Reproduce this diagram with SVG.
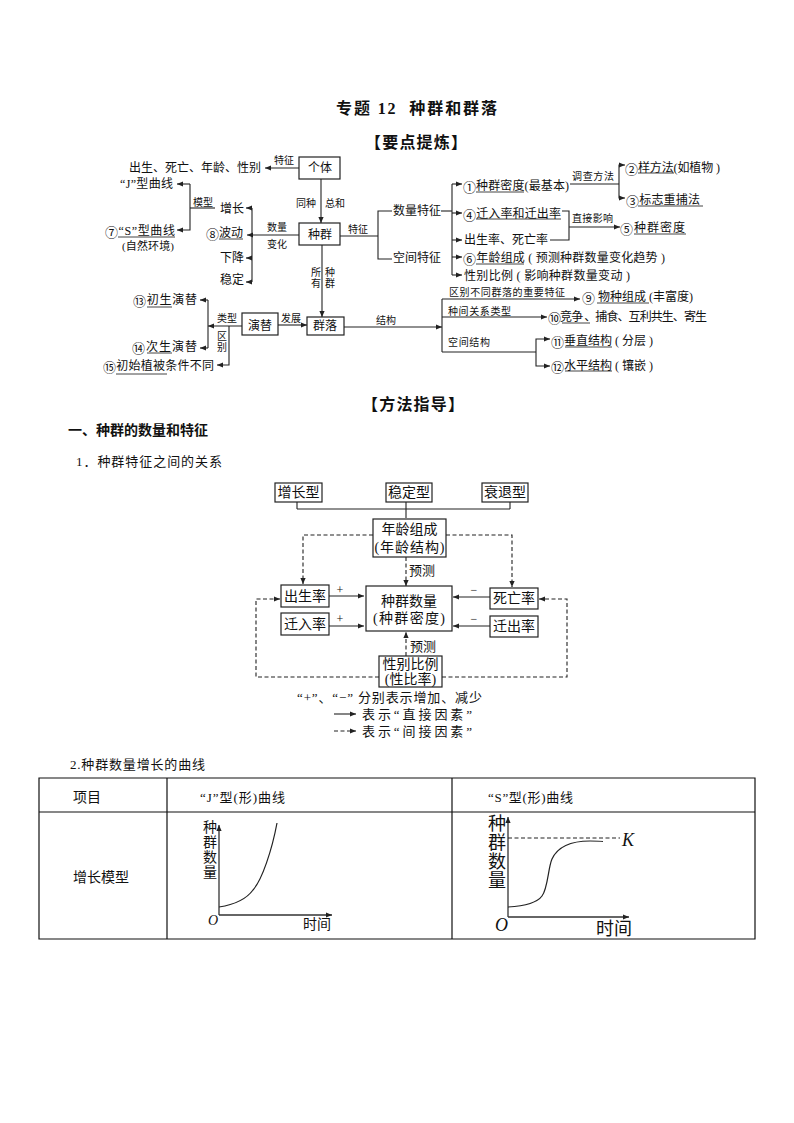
<svg xmlns="http://www.w3.org/2000/svg" width="794" height="1123" viewBox="0 0 794 1123">
<style>
text{font-family:"Liberation Serif","Noto Sans CJK SC",serif;fill:#111;dominant-baseline:central;font-size:12px}
.n{font-family:"Noto Sans CJK SC",sans-serif;font-size:13px}
.h{font-weight:bold}
.s{font-size:10px}
.m{font-size:14px}
.c{text-anchor:middle}
.b{fill:#fff;stroke:#222;stroke-width:1.2}
.l{fill:none;stroke:#222;stroke-width:1.1}
.d{fill:none;stroke:#222;stroke-width:1.1;stroke-dasharray:4 2.5}
.a{marker-end:url(#ah)}
.u{fill:none;stroke:#444;stroke-width:1}
.t{fill:none;stroke:#111;stroke-width:1.2}
.ax{fill:none;stroke:#333;stroke-width:1.3;marker-end:url(#ah)}
.cv{fill:none;stroke:#222;stroke-width:1.2}
</style>
<defs><marker id="ah" markerWidth="7" markerHeight="6" refX="6" refY="3" orient="auto" markerUnits="userSpaceOnUse"><path d="M0,0.4L6,3L0,5.6Z" fill="#222"/></marker></defs>
<rect width="794" height="1123" fill="#fff"/>
<g id="headings">
<text class="h" x="336" y="108" style="font-size:16px" textLength="161">专题 12 <tspan dx="6">种群和群落</tspan></text>
<text class="h" x="365" y="142" style="font-size:16px" textLength="102">【要点提炼】</text>
<text class="h" x="362" y="404" style="font-size:16px" textLength="102">【方法指导】</text>
<text class="h" x="68" y="430" style="font-size:14px">一、种群的数量和特征</text>
<text x="76" y="461" style="font-size:13px" textLength="146">1．种群特征之间的关系</text>
<text x="70" y="764" style="font-size:13px" textLength="135">2.种群数量增长的曲线</text>
</g>
<g id="connectors">
<path class="l a" d="M299 168H265"/>
<path class="l a" d="M321 179V223"/>
<path class="l a" d="M322 245V317"/>
<path class="l a" d="M299 235H247"/>
<path class="l" d="M252 208V282"/>
<path class="l a" d="M252 208H246"/>
<path class="l a" d="M252 258H246"/>
<path class="l a" d="M252 282H246"/>
<path class="l a" d="M190 184H177"/>
<path class="l a" d="M190 184V230H177"/>
<path class="l" d="M190 208H215"/>
<path class="l" d="M340 236H378"/>
<path class="l" d="M392 211H378V259H392"/>
<path class="l" d="M441 211H452"/>
<path class="l" d="M452 184V275"/>
<path class="l a" d="M452 184H462"/>
<path class="l a" d="M452 213H462"/>
<path class="l a" d="M452 240H462"/>
<path class="l a" d="M452 257H462"/>
<path class="l a" d="M452 275H462"/>
<path class="l" d="M570 184H619"/>
<path class="l a" d="M619 184V165H625"/>
<path class="l a" d="M619 184V198H625"/>
<path class="l" d="M562 211H569V240H550"/>
<path class="l a" d="M569 227H620"/>
<path class="l a" d="M344 327H442"/>
<path class="l" d="M442 299V352"/>
<path class="l a" d="M442 299H580"/>
<path class="l a" d="M442 317H547"/>
<path class="l" d="M442 352H536"/>
<path class="l a" d="M536 352V339H550"/>
<path class="l a" d="M536 352V366H550"/>
<path class="l a" d="M278 325H307"/>
<path class="l a" d="M242 326H208"/>
<path class="l" d="M208 300V348"/>
<path class="l a" d="M208 300H200"/>
<path class="l a" d="M208 348H200"/>
<path class="l a" d="M229 326V365H217"/>
<path class="l" d="M297 502V509M406 502V518M510 502V509M297 509H510"/>
<path class="d a" d="M373 535H303V584"/>
<path class="d a" d="M446 535H512V587"/>
<path class="d a" d="M406 557V586"/>
<path class="d a" d="M406 656V632"/>
<path class="d a" d="M379 677H256V599H280"/>
<path class="d a" d="M442 677H567V599H539"/>
<path class="l a" d="M329 596H364"/>
<path class="l a" d="M329 626H364"/>
<path class="l a" d="M490 597H453"/>
<path class="l a" d="M490 626H453"/>
<path class="l a" d="M334 714H356"/>
<path class="d a" d="M334 731H356"/>
</g>
<g id="underlines">
<path class="u" d="M118 237H175M219 239H243M476 192H524M638 173H674M638 206H703M476 219H561M634 234H686M476 264H524M597 303H649M562 323H590M565 347H612M565 371H612M147 307H172M147 353H172M116 374H167"/>
</g>
<g id="concept-labels">
<text x="129" y="168" textLength="132">出生、死亡、年龄、性别</text>
<text class="s" x="274" y="160">特征</text>
<text x="120" y="184" textLength="53">“J”型曲线</text>
<text class="s" x="193" y="202">模型</text>
<text x="105" y="231" textLength="70"><tspan class="n">⑦</tspan>“S”型曲线</text>
<text class="s" x="122" y="246" style="font-size:11px" textLength="52">(自然环境)</text>
<text x="220" y="209">增长</text>
<text x="206" y="233" textLength="37"><tspan class="n">⑧</tspan>波动</text>
<text x="220" y="258">下降</text>
<text x="220" y="280">稳定</text>
<text class="s" x="267" y="227">数量</text>
<text class="s" x="267" y="244">变化</text>
<text class="s" x="296" y="203">同种</text>
<text class="s" x="325" y="203">总和</text>
<text class="s c" x="316" y="272">所</text>
<text class="s c" x="316" y="283">有</text>
<text class="s c" x="330" y="272">种</text>
<text class="s c" x="330" y="283">群</text>
<text class="s" x="348" y="229">特征</text>
<text x="393" y="211" textLength="48">数量特征</text>
<text x="393" y="258" textLength="48">空间特征</text>
<text x="463" y="186" textLength="106"><tspan class="n">①</tspan>种群密度(最基本)</text>
<text class="s" x="572" y="176" textLength="42">调查方法</text>
<text x="625" y="168" textLength="95"><tspan class="n">②</tspan>样方法(如植物 )</text>
<text x="626" y="200" textLength="74"><tspan class="n">③</tspan>标志重捕法</text>
<text x="463" y="214" textLength="98"><tspan class="n">④</tspan>迁入率和迁出率</text>
<text x="464" y="240" textLength="84">出生率、死亡率</text>
<text class="s" x="572" y="218" textLength="41">直接影响</text>
<text x="620" y="228" textLength="65"><tspan class="n">⑤</tspan>种群密度</text>
<text x="463" y="258" textLength="202"><tspan class="n">⑥</tspan>年龄组成 ( 预测种群数量变化趋势 )</text>
<text x="464" y="276" textLength="166">性别比例 ( 影响种群数量变动 )</text>
<text class="s" x="449" y="292" textLength="116">区别不同群落的重要特征</text>
<text x="582" y="297" textLength="111"><tspan class="n">⑨</tspan> 物种组成 (丰富度)</text>
<text class="s" x="448" y="311" textLength="63">种间关系类型</text>
<text x="548" y="317" textLength="159"><tspan class="n">⑩</tspan>竞争 、捕食、互利共生、寄生</text>
<text class="s" x="376" y="320">结构</text>
<text class="s" x="448" y="342" textLength="42">空间结构</text>
<text x="551" y="341" textLength="102"><tspan class="n">⑪</tspan>垂直结构 ( 分层 )</text>
<text x="551" y="366" textLength="102"><tspan class="n">⑫</tspan>水平结构 ( 镶嵌 )</text>
<text x="133" y="300" textLength="64"><tspan class="n">⑬</tspan>初生演替</text>
<text x="132" y="347" textLength="65"><tspan class="n">⑭</tspan>次生演替</text>
<text x="103" y="366" textLength="111"><tspan class="n">⑮</tspan>初始植被条件不同</text>
<text class="s" x="217" y="318">类型</text>
<text class="s" x="281" y="318">发展</text>
<text class="s c" x="222" y="336">区</text>
<text class="s c" x="222" y="347">别</text>
</g>
<g id="node-geti"><rect class="b" x="299" y="157" width="41" height="22"/><text class="c" x="320" y="168">个体</text></g>
<g id="node-zhongqun"><rect class="b" x="299" y="223" width="41" height="22"/><text class="c" x="320" y="235">种群</text></g>
<g id="node-yanti"><rect class="b" x="242" y="313" width="36" height="22"/><text class="c" x="260" y="326">演替</text></g>
<g id="node-qunluo"><rect class="b" x="307" y="317" width="37" height="18"/><text class="c" x="325" y="326">群落</text></g>
<g id="node-zengzhang"><rect class="b" x="275" y="483" width="47" height="19"/><text class="m c" x="298.500" y="492.500">增长型</text></g>
<g id="node-wending"><rect class="b" x="386" y="483" width="46" height="19"/><text class="m c" x="409" y="492.500">稳定型</text></g>
<g id="node-shuaitui"><rect class="b" x="482" y="483" width="46" height="19"/><text class="m c" x="505" y="492.500">衰退型</text></g>
<g id="node-nianling"><rect class="b" x="373" y="519" width="73" height="38"/><text class="m c" x="409.500" y="529">年龄组成</text><text class="m c" x="409.500" y="547" textLength="70">(年龄结构)</text></g>
<g id="node-chusheng"><rect class="b" x="281" y="585" width="48" height="22"/><text class="m c" x="305" y="596">出生率</text></g>
<g id="node-qianru"><rect class="b" x="281" y="613" width="48" height="22"/><text class="m c" x="305" y="624">迁入率</text></g>
<g id="node-siwang"><rect class="b" x="490" y="588" width="48" height="21"/><text class="m c" x="514" y="598.500">死亡率</text></g>
<g id="node-qianchu"><rect class="b" x="490" y="616" width="48" height="21"/><text class="m c" x="514" y="626.500">迁出率</text></g>
<g id="node-shuliang"><rect class="b" x="366" y="586" width="86" height="45"/><text class="m c" x="409" y="601">种群数量</text><text class="m c" x="409" y="618" textLength="72">(种群密度)</text></g>
<g id="node-xingbie"><rect class="b" x="379" y="656" width="63" height="31"/><text class="m c" x="410.500" y="664">性别比例</text><text class="m c" x="410.500" y="679">(性比率)</text></g>
<g id="flow-labels">
<text x="409" y="570" style="font-size:13px">预测</text>
<text x="410" y="646" style="font-size:13px">预测</text>
<text class="c" x="340" y="590">+</text>
<text class="c" x="340" y="619">+</text>
<text class="c" x="474" y="590">−</text>
<text class="c" x="474" y="619">−</text>
<text x="297" y="697" style="font-size:13px" textLength="185">“+”、“−” 分别表示增加、减少</text>
<text x="362" y="714" style="font-size:13px" textLength="110">表示“直接因素”</text>
<text x="362" y="731" style="font-size:13px" textLength="110">表示“间接因素”</text>
</g>
<g id="table">
<path class="t" d="M39 778H755V939H39ZM39 812H755M167 778V939M452 778V939"/>
<text x="73" y="797" style="font-size:14px">项目</text>
<text x="200" y="797" style="font-size:13px" textLength="85">“J”型(形)曲线</text>
<text x="488" y="797" style="font-size:13px" textLength="85">“S”型(形)曲线</text>
<text x="73" y="877" style="font-size:14px">增长模型</text>
</g>
<g id="chart-j">
<path class="ax" d="M219 915V825"/>
<path class="ax" d="M219 915H332"/>
<path class="cv" d="M219 907C232 905 245 901 253 890C262 880 272 850 277 823"/>
<text class="c" x="210" y="827" style="font-size:14px">种</text>
<text class="c" x="210" y="842" style="font-size:14px">群</text>
<text class="c" x="210" y="857" style="font-size:14px">数</text>
<text class="c" x="210" y="872" style="font-size:14px">量</text>
<text x="208" y="920" style="font-size:14px;font-style:italic">O</text>
<text x="303" y="924" style="font-size:14px">时间</text>
</g>
<g id="chart-s">
<path class="ax" d="M508 917V817"/>
<path class="ax" d="M508 917H629"/>
<path class="d" d="M508 838H620"/>
<path class="cv" d="M508 907C525 906 537 903 542 896C548 888 548 868 552 859C558 846 572 841 590 841C596 841 600 841 603 841.500"/>
<text class="c" x="497" y="824" style="font-size:18px">种</text>
<text class="c" x="497" y="843" style="font-size:18px">群</text>
<text class="c" x="497" y="862" style="font-size:18px">数</text>
<text class="c" x="497" y="881" style="font-size:18px">量</text>
<text x="622" y="840" style="font-size:18px;font-style:italic">K</text>
<text x="495" y="925" style="font-size:18px;font-style:italic">O</text>
<text x="596" y="929" style="font-size:18px">时间</text>
</g>
</svg>
